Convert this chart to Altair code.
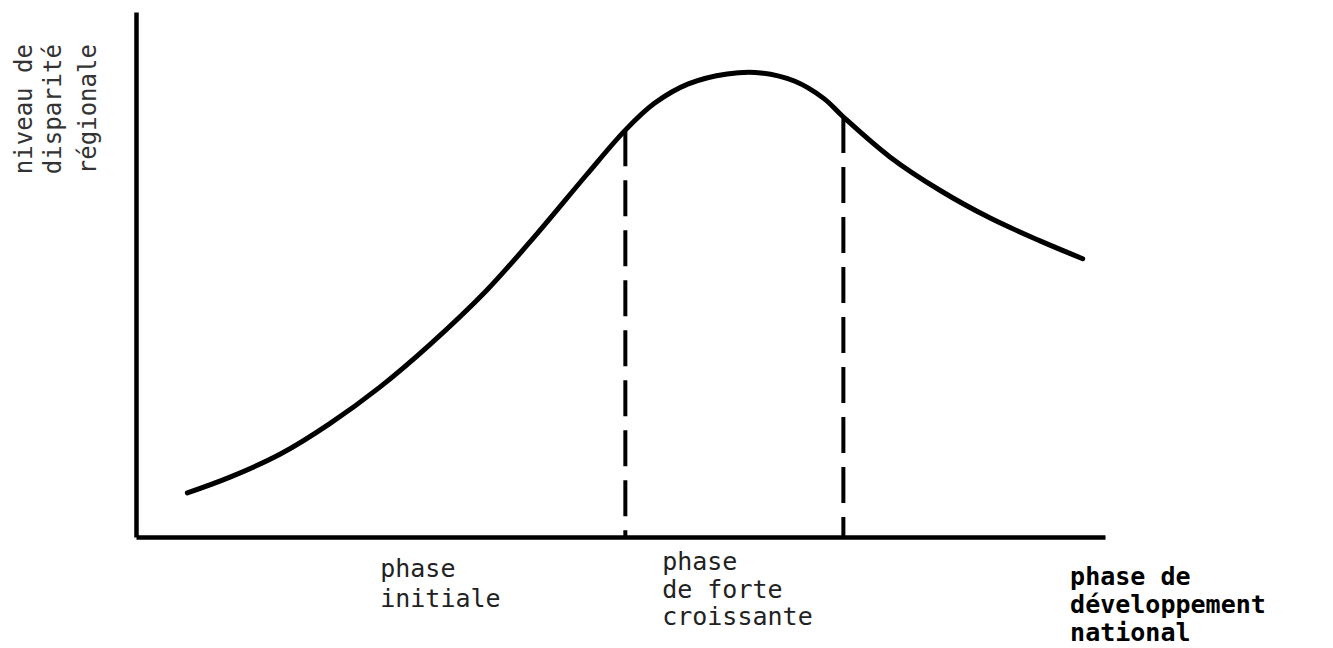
import altair as alt
import pandas as pd

# Curve (x: 0-100 along national development, y: 0-100 regional disparity)
curve_x = [5.3, 9.7, 14.9, 20.0, 25.2, 30.3, 36.2, 41.4, 46.5, 50.5, 53.5, 57.0,
           61.0, 64.5, 68.0, 71.0, 73.0, 77.8, 83.0, 88.1, 93.3, 97.7]
curve_y = [8.4, 11.4, 15.8, 21.6, 28.6, 36.6, 47.0, 57.8, 69.0, 77.5, 82.6, 86.3,
           88.2, 88.4, 86.8, 83.5, 80.0, 72.4, 66.0, 60.8, 56.4, 53.0]

# Phase boundaries (dashed verticals)
bound_x = [50.5, 73.0]
bound_top = [77.5, 80.0]
bound_bottom = [0, 0]

# Phase labels below the axis
phase_lines = ["phase", "initiale",
               "phase", "de forte", "croissante"]
phase_x = [25.2, 25.2, 54.3, 54.3, 54.3]
phase_y = [-7.6, -13.3, -6.3, -11.6, -16.8]

axis_lines = ["phase de", "développement", "national"]
axis_lab_x = [96.4, 96.4, 96.4]
axis_lab_y = [-9.2, -14.5, -19.8]

ytitle_lines = ["niveau de", "disparité", "régionale"]
ytitle_x = [-11.5, -8.5, -4.9]
ytitle_y = [81.5, 81.5, 81.5]

curve = pd.DataFrame({"x": curve_x, "y": curve_y})
bounds = pd.DataFrame({"x": bound_x, "y": bound_top, "y2": bound_bottom})
phases = pd.DataFrame({"t": phase_lines, "x": phase_x, "y": phase_y})
axlab = pd.DataFrame({"t": axis_lines, "x": axis_lab_x, "y": axis_lab_y})
ytit = pd.DataFrame({"t": ytitle_lines, "x": ytitle_x, "y": ytitle_y})

xs = alt.Scale(domain=[0, 100], nice=False, zero=False)
ys = alt.Scale(domain=[0, 100], nice=False, zero=False)

axis_style = dict(domain=True, domainColor="black", domainWidth=4.5, ticks=False,
                  labels=False, grid=False, title=None)

line = alt.Chart(curve).mark_line(color="black", strokeWidth=5, interpolate="catmull-rom",
                                  strokeCap="round").encode(
    x=alt.X("x:Q", scale=xs, axis=alt.Axis(**axis_style)),
    y=alt.Y("y:Q", scale=ys, axis=alt.Axis(**axis_style)),
)

dashed = alt.Chart(bounds).mark_rule(color="black", strokeWidth=4,
                                     strokeDash=[36, 14]).encode(
    x=alt.X("x:Q", scale=xs), y=alt.Y("y:Q", scale=ys), y2="y2:Q"
)

font = "DejaVu Sans Mono"

ptext = alt.Chart(phases).mark_text(font=font, fontSize=25, align="left",
                                    baseline="alphabetic", color="#222").encode(
    x=alt.X("x:Q", scale=xs), y=alt.Y("y:Q", scale=ys), text="t:N"
)

atext = alt.Chart(axlab).mark_text(font=font, fontSize=25, fontWeight="bold", align="left",
                                   baseline="alphabetic", color="black").encode(
    x=alt.X("x:Q", scale=xs), y=alt.Y("y:Q", scale=ys), text="t:N"
)

ytext = alt.Chart(ytit).mark_text(font=font, fontSize=24, align="center", angle=270,
                                  baseline="middle", color="#333").encode(
    x=alt.X("x:Q", scale=xs), y=alt.Y("y:Q", scale=ys), text="t:N"
)

chart = alt.layer(line, dashed, ptext, atext, ytext).properties(
    width=969, height=525,
    autosize=alt.AutoSizeParams(type="none"),
    padding={"left": 128, "top": 4, "right": 200, "bottom": 110},
    background="white",
).configure_view(stroke=None)

chart.save("out.html", embed_options={"renderer": "svg", "actions": False})
